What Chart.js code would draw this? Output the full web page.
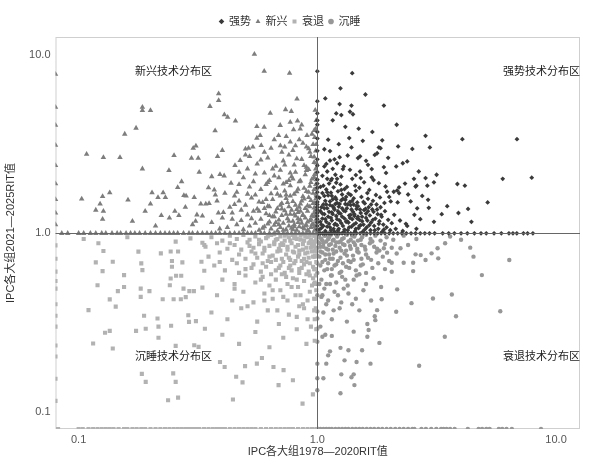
<!DOCTYPE html>
<html>
<head>
<meta charset="utf-8">
<script src="https://cdn.jsdelivr.net/npm/chart.js@4.4.1/dist/chart.umd.min.js"></script>
<style>
  html, body { margin: 0; padding: 0; background: #fff; }
</style>
</head>
<body>
<canvas id="chart" width="596" height="459"></canvas>
<script>
// 系列名与象限名
const seriesNames = ['强势', '新兴', '衰退', '沉睡'];
const quadrantNames = ['新兴技术分布区', '强势技术分布区', '沉睡技术分布区', '衰退技术分布区'];
const tickValues = [0.1, 1, 10];
const xTitle = 'IPC各大组1978—2020RIT值';
const yTitle = 'IPC各大组2021—2025RIT值';

// 强势: [1978-2020 RIT, 2021-2025 RIT]
const strongPoints = [
  [1.0,8.1],[1.40,7.9],[1.25,6.5],[1.59,6.0],[1.08,5.7],[1.24,5.3],[1.39,5.2],[1.90,5.2],[1.20,4.7],[1.26,4.6],
  [1.37,4.8],[1.41,4.65],[2.15,4.06],[1.49,3.86],[2.84,3.52],[4.05,3.37],[6.86,3.37],[1.36,3.42],[1.87,3.32],[1.07,2.96],
  [1.13,2.89],[1.23,3.16],[1.39,3.03],[1.81,3.03],[1.84,3.0],[2.18,3.07],[2.50,2.97],[2.96,3.03],[1.74,2.75],[1.78,2.81],
  [1.51,2.70],[1.48,2.64],[1.24,2.67],[1.34,2.73],[1.07,2.37],[1.13,2.56],[1.21,2.47],[1.29,2.37],[1.28,2.29],[1.37,2.27],
  [1.63,2.42],[1.69,2.29],[1.90,2.35],[2.14,2.37],[2.28,2.47],[2.38,2.53],[1.10,2.22],[1.10,2.02],[1.15,2.02],[1.21,2.02],
  [1.19,2.13],[1.40,2.02],[1.51,2.22],[1.52,2.04],[1.69,2.06],[1.72,1.99],[1.81,1.91],[1.93,1.83],[2.20,1.81],[2.16,1.74],
  [1.96,1.71],[2.54,2.02],[2.60,1.85],[2.58,1.83],[2.89,1.85],[2.84,2.04],[3.16,2.13],[3.08,1.93],[3.86,1.89],[4.15,1.85],
  [5.98,2.02],[7.91,2.05],[5.17,1.49],[4.28,1.37],[4.42,1.16],[3.32,1.28],[3.08,1.16],[2.91,1.54],[2.93,1.39],[2.62,1.38],
  [2.46,1.51],[2.38,1.10],[2.60,1.06],[2.17,1.49],[2.20,1.68],[2.09,1.71],[2.03,1.51],
  [1.02,1.05],[1.04,1.12],[1.05,1.21],[1.03,1.33],[1.06,1.45],[1.02,1.58],[1.05,1.68],[1.03,1.82],[1.08,1.03],[1.09,1.16],
  [1.07,1.28],[1.10,1.38],[1.08,1.52],[1.11,1.63],[1.09,1.76],[1.12,1.90],[1.13,1.08],[1.14,1.22],[1.15,1.31],[1.13,1.44],
  [1.16,1.55],[1.14,1.69],[1.17,1.81],[1.18,1.02],[1.19,1.13],[1.20,1.25],[1.18,1.36],[1.21,1.48],[1.19,1.59],[1.22,1.72],
  [1.23,1.06],[1.24,1.18],[1.25,1.29],[1.23,1.41],[1.26,1.53],[1.27,1.65],[1.25,1.88],[1.28,1.10],[1.30,1.21],[1.29,1.34],
  [1.31,1.46],[1.32,1.60],[1.30,1.77],[1.34,1.04],[1.35,1.15],[1.36,1.26],[1.33,1.38],[1.37,1.50],[1.35,1.67],[1.39,1.09],
  [1.40,1.20],[1.41,1.32],[1.38,1.44],[1.42,1.57],[1.44,1.03],[1.45,1.14],[1.43,1.25],[1.46,1.37],[1.47,1.49],[1.45,1.73],
  [1.49,1.07],[1.50,1.19],[1.52,1.30],[1.48,1.42],[1.53,1.60],[1.55,1.02],[1.56,1.12],[1.54,1.24],[1.57,1.35],[1.58,1.47],
  [1.61,1.08],[1.62,1.18],[1.60,1.29],[1.64,1.40],[1.63,1.56],[1.67,1.04],[1.68,1.15],[1.66,1.26],[1.70,1.36],[1.73,1.10],
  [1.75,1.21],[1.72,1.32],[1.77,1.45],[1.80,1.06],[1.82,1.17],[1.79,1.28],[1.84,1.40],[1.87,1.02],[1.89,1.12],[1.86,1.24],
  [1.92,1.33],[1.95,1.08],[1.98,1.19],[2.02,1.04],[2.05,1.14],[2.10,1.27],[2.13,1.06],[2.22,1.18],[2.28,1.03],[2.35,1.13],
  [1.06,1.10],[1.11,1.24],[1.16,1.42],[1.21,1.11],[1.27,1.38],[1.33,1.17],[1.42,1.45],[1.52,1.11],[1.59,1.37],[1.71,1.52],
  [1.76,1.64],[1.91,1.48],[2.00,1.60],[1.12,1.13],[1.17,1.06],[1.22,1.33],[1.29,1.02],[1.38,1.27],[1.47,1.21],[1.04,1.40],
  [1.07,1.62],[1.14,1.98],[1.19,1.46],[1.31,1.54],[1.44,1.85],[1.57,1.93],[1.65,1.75],[1.83,1.59],[1.94,2.18],[2.40,1.65],
  [2.55,1.27],[2.70,1.20],[2.75,1.62],[3.50,1.42],[3.90,1.30],[2.33,1.90],[2.66,2.22],[1.60,2.55],[1.45,2.12],[1.26,2.08],
  [1.18,2.60],[1.55,3.30],[1.98,2.65],[1.11,3.35],[1.31,3.95],[1.70,3.70],[1.16,4.30],
  [1.03,1.16],[1.05,1.29],[1.04,1.07],[1.07,1.38],[1.08,1.20],[1.09,1.45],[1.10,1.09],[1.12,1.32],[1.13,1.51],[1.14,1.04],
  [1.15,1.18],[1.16,1.28],[1.17,1.39],[1.18,1.12],[1.20,1.55],[1.21,1.20],[1.22,1.04],[1.23,1.30],[1.24,1.46],[1.26,1.14],
  [1.27,1.24],[1.28,1.56],[1.30,1.05],[1.31,1.33],[1.32,1.16],[1.34,1.45],[1.36,1.08],[1.37,1.22],[1.39,1.36],[1.40,1.52],
  [1.42,1.12],[1.43,1.28],[1.45,1.06],[1.46,1.42],[1.48,1.24],[1.50,1.10],[1.51,1.36],[1.54,1.17],[1.56,1.50],[1.58,1.05],
  [1.60,1.22],[1.63,1.33],[1.65,1.11],[1.68,1.45],[1.71,1.19],[1.74,1.04],[1.78,1.36],[1.81,1.13],[1.85,1.27],[1.90,1.05],
  [1.06,1.85],[1.10,1.70],[1.15,1.62],[1.20,1.92],[1.26,1.75],[1.33,1.82],[1.38,1.64],[1.50,1.80],[1.62,1.68],[1.05,2.10],
  [1.09,2.45],[1.16,2.30]
];
// 强势: 2021-2025 RIT 恰为 1 的 (x 值)
const strongOnY1 = [
  1.01,1.03,1.05,1.07,1.09,1.11,1.13,1.15,1.18,1.21,1.24,1.27,1.30,1.34,1.38,1.42,1.46,1.51,1.56,1.61,
  1.67,1.73,1.79,1.85,1.92,2.00,2.08,2.17,2.26,2.36,2.47,2.58,2.70,2.82,2.95,3.10,3.35,3.55,3.75,4.00,
  4.25,4.55,4.85,5.10,5.50,5.90,6.35,6.60,6.85,7.30,7.60,8.00
];
// 强势: 1978-2020 RIT 恰为 1 的 (y 值)
const strongOnX1 = [5.5,4.7,4.3,4.06,3.7,3.4,2.9,2.6,2.4,2.2,2.0,1.9,1.8,1.7,1.6,1.5,1.45,1.4,1.35,1.3,1.25,1.2,1.15,1.1,1.05];

// 新兴
const emergingPoints = [
  [0.545,10.1],[0.599,8.1],[0.765,7.9],[0.822,5.66],[0.386,6.06],[0.386,5.56],[0.355,5.15],[0.408,4.62],[0.421,4.48],[0.454,4.27],
  [0.373,3.76],[0.635,4.72],[0.736,4.94],[0.778,4.83],[0.558,3.97],[0.599,3.93],[0.699,4.03],[0.826,4.27],[0.77,4.2],[0.795,3.81],
  [0.848,3.85],[0.905,3.54],[0.971,3.78],[0.185,5.1],[0.185,4.89],[0.200,4.89],[0.174,3.89],[0.156,3.60],[0.108,2.78],[0.127,2.66],
  [0.149,2.66],[0.185,2.30],[0.239,2.25],[0.251,2.73],[0.302,3.0],[0.310,3.09],[0.297,2.64],[0.317,2.64],[0.382,2.70],[0.400,2.92],
  [0.515,3.0],[0.537,3.05],[0.50,2.75],[0.52,2.70],[0.582,3.11],[0.103,1.56],[0.126,1.61],[0.135,1.69],[0.123,1.46],[0.127,1.33],
  [0.118,1.35],[0.126,1.20],[0.161,1.54],[0.168,1.17],[0.19,1.33],[0.20,1.46],[0.203,1.69],[0.215,1.59],[0.226,1.69],[0.231,1.59],
  [0.222,1.26],[0.26,1.81],[0.276,1.63],[0.282,1.62],[0.253,1.33],[0.263,1.26],[0.305,1.59],[0.313,1.27],[0.309,1.17],[0.325,1.46],
  [0.341,1.46],[0.352,1.47],[0.37,1.75],[0.374,1.64],[0.361,2.08],[0.391,2.14],[0.407,2.10],[0.435,1.91],[0.385,1.30],[0.404,1.31],
  [0.361,1.15],[0.452,2.40],[0.475,2.56],[0.50,2.97],[0.558,3.42],[0.576,3.54],[0.688,3.54],[0.741,3.49],[0.77,3.25],[0.84,3.35],
  [0.64,3.0],[0.70,3.1],
  [0.42,1.08],[0.46,1.12],[0.49,1.05],[0.52,1.10],[0.55,1.14],[0.57,1.04],[0.60,1.09],[0.62,1.13],[0.64,1.06],[0.66,1.11],
  [0.68,1.03],[0.70,1.08],[0.72,1.14],[0.74,1.05],[0.76,1.10],[0.78,1.07],[0.80,1.12],[0.82,1.04],[0.84,1.09],[0.86,1.14],
  [0.88,1.06],[0.90,1.11],[0.92,1.03],[0.94,1.08],[0.96,1.13],[0.98,1.05],
  [0.40,1.22],[0.44,1.30],[0.48,1.18],[0.51,1.27],[0.54,1.33],[0.58,1.20],[0.61,1.29],[0.63,1.16],[0.65,1.24],[0.67,1.32],
  [0.69,1.19],[0.71,1.26],[0.73,1.34],[0.75,1.21],[0.77,1.28],[0.79,1.17],[0.81,1.25],[0.83,1.31],[0.85,1.19],[0.87,1.27],
  [0.89,1.22],[0.91,1.33],[0.93,1.18],[0.95,1.26],[0.97,1.30],[0.99,1.20],
  [0.43,1.40],[0.47,1.52],[0.50,1.44],[0.53,1.58],[0.56,1.37],[0.59,1.49],[0.62,1.42],[0.65,1.55],[0.68,1.38],[0.71,1.47],
  [0.74,1.57],[0.76,1.41],[0.79,1.51],[0.82,1.36],[0.85,1.46],[0.88,1.56],[0.91,1.43],[0.94,1.53],[0.97,1.39],
  [0.46,1.70],[0.52,1.82],[0.55,1.64],[0.58,1.76],[0.61,1.88],[0.64,1.67],[0.67,1.79],[0.70,1.62],[0.73,1.73],[0.77,1.85],
  [0.80,1.66],[0.83,1.77],[0.87,1.61],[0.90,1.72],[0.93,1.84],[0.96,1.68],[0.99,1.78],
  [0.49,2.05],[0.54,1.95],[0.60,2.18],[0.63,1.98],[0.66,2.10],[0.70,2.26],[0.74,1.93],[0.78,2.08],[0.81,2.20],[0.85,1.97],
  [0.89,2.13],[0.92,2.28],[0.95,2.02],[0.98,2.15],
  [0.56,2.45],[0.62,2.65],[0.67,2.38],[0.72,2.55],[0.76,2.75],[0.80,2.42],[0.86,2.60],[0.90,2.35],[0.94,2.70],[0.97,2.50],
  [0.60,2.85],[0.73,3.05],[0.79,2.92],[0.87,3.20],[0.92,2.98],[0.96,3.15],
  [0.21,1.10],[0.24,1.22],[0.28,1.40],[0.30,1.12],[0.33,1.25],[0.35,1.80],[0.38,1.52],[0.41,1.68],[0.44,1.20],[0.27,1.95],
  [0.32,2.20],[0.39,1.06],[0.45,1.45],[0.47,1.88],[0.51,2.30],
  [0.975,1.04],[0.985,1.10],[0.99,1.17],[0.97,1.24],[0.985,1.31],[0.99,1.39],[0.975,1.47],[0.985,1.56],[0.99,1.66],[0.97,1.76],
  [0.985,1.88],[0.99,2.0],[0.975,2.14],[0.985,2.3],[0.99,2.48],[0.97,2.68],[0.985,2.9],[0.99,3.15],[0.975,3.45],[0.985,3.85],
  [0.99,4.3],[0.98,4.9],
  [0.53,1.21],[0.57,1.33],[0.59,1.07],[0.61,1.55],[0.63,1.41],[0.66,1.24],[0.68,1.66],[0.69,1.12],[0.71,1.37],[0.72,1.89],
  [0.74,1.28],[0.75,1.49],[0.76,1.17],[0.77,1.62],[0.78,1.35],[0.79,2.02],[0.80,1.09],[0.81,1.44],[0.82,1.71],[0.83,1.21],
  [0.84,1.95],[0.85,1.33],[0.86,1.52],[0.87,1.08],[0.88,1.79],[0.89,1.38],[0.90,2.25],[0.91,1.16],[0.92,1.59],[0.93,1.41],
  [0.94,1.93],[0.95,1.12],[0.96,1.47],[0.97,2.06],[0.98,1.25],[0.99,1.62],[0.62,1.93],[0.65,2.30],[0.69,2.05],[0.73,2.42],
  [0.77,2.18],[0.82,2.62],[0.88,2.40],[0.93,2.85],[0.58,2.58],[0.55,2.15],[0.51,1.66],[0.48,1.35],[0.45,1.62],[0.47,2.20],
  [0.71,2.85],[0.81,3.10],[0.66,3.35],[0.86,4.05],[0.90,3.05],[0.95,3.60],[0.79,1.05],[0.83,1.15],[0.87,1.26],[0.91,1.04],
  [0.94,1.20],[0.97,1.09],[0.72,1.04],[0.67,1.15],[0.63,1.26],[0.60,1.38],[0.57,1.50],[0.76,1.98],[0.84,1.40],[0.92,1.70],
  [0.98,1.35],[0.89,1.10],[0.80,1.28],[0.74,1.64],[0.70,1.44]
];
const emergingOnY1 = [
  0.085,0.09,0.10,0.105,0.112,0.118,0.125,0.13,0.138,0.145,0.15,0.158,0.165,0.172,0.18,0.19,0.20,0.21,0.22,0.23,
  0.24,0.25,0.26,0.275,0.29,0.30,0.315,0.33,0.345,0.36,0.375,0.39,0.41,0.43,0.45,0.47,0.49,0.51,0.53,0.55,
  0.58,0.60,0.63,0.66,0.69,0.72,0.75,0.78,0.81,0.84,0.87,0.90,0.93,0.96,0.99
];
// 1978-2020 RIT 为 0 (y 值)
const emergingZeroX = [7.8,5.1,4.04,3.12,2.4,1.9,1.55,1.3,1.12];

// 衰退
const decliningPoints = [
  [0.121,0.879],[0.127,0.796],[0.118,0.687],[0.139,0.693],[0.126,0.614],[0.155,0.583],[0.120,0.512],[0.146,0.474],[0.155,0.50],[0.135,0.426],
  [0.143,0.388],[0.110,0.371],[0.129,0.277],[0.135,0.284],[0.115,0.241],[0.139,0.226],[0.178,0.789],[0.183,0.678],[0.185,0.622],[0.182,0.49],
  [0.182,0.44],[0.198,0.474],[0.188,0.345],[0.191,0.292],[0.174,0.284],[0.214,0.333],[0.216,0.30],[0.216,0.26],[0.225,0.427],[0.244,0.303],
  [0.221,0.772],[0.243,0.79],[0.261,0.79],[0.255,0.898],[0.246,0.699],[0.246,0.65],[0.243,0.558],[0.256,0.578],[0.269,0.578],[0.272,0.687],
  [0.241,0.512],[0.25,0.427],[0.268,0.427],[0.281,0.439],[0.275,0.49],[0.291,0.474],[0.304,0.474],[0.288,0.347],[0.29,0.319],[0.31,0.322],
  [0.255,0.234],[0.305,0.236],[0.318,0.231],[0.184,0.163],[0.191,0.147],[0.249,0.164],[0.255,0.147],[0.237,0.116],[0.261,0.12],[0.294,0.937],
  [0.33,0.886],[0.336,0.86],[0.327,0.693],[0.336,0.617],[0.33,0.496],[0.338,0.292],[0.391,0.19],[0.409,0.178],[0.867,0.111],[0.958,0.125],
  [0.688,0.141],[0.79,0.15],[0.486,0.146],[0.443,0.117],[0.457,0.157],[0.498,0.18],[0.558,0.186],[0.586,0.20],[0.655,0.178],[0.722,0.171],
  [0.16,0.95],[0.105,0.93],
  [0.36,0.95],[0.40,0.91],[0.43,0.97],[0.46,0.93],[0.49,0.98],[0.52,0.92],[0.55,0.96],[0.58,0.90],[0.61,0.94],[0.64,0.98],
  [0.67,0.92],[0.70,0.96],[0.73,0.91],[0.76,0.95],[0.79,0.98],[0.82,0.93],[0.85,0.97],[0.88,0.91],[0.91,0.95],[0.94,0.92],
  [0.97,0.97],[0.99,0.94],
  [0.34,0.84],[0.38,0.88],[0.42,0.82],[0.45,0.86],[0.48,0.81],[0.51,0.89],[0.54,0.83],[0.57,0.87],[0.60,0.80],[0.63,0.85],
  [0.66,0.89],[0.69,0.82],[0.72,0.86],[0.75,0.81],[0.78,0.88],[0.81,0.84],[0.84,0.80],[0.87,0.87],[0.90,0.83],[0.93,0.89],
  [0.96,0.85],[0.98,0.81],
  [0.35,0.74],[0.39,0.78],[0.44,0.71],[0.47,0.76],[0.50,0.72],[0.53,0.79],[0.56,0.73],[0.59,0.77],[0.62,0.70],[0.65,0.75],
  [0.68,0.79],[0.71,0.72],[0.74,0.76],[0.77,0.71],[0.80,0.78],[0.83,0.74],[0.86,0.70],[0.89,0.77],[0.92,0.73],[0.95,0.79],
  [0.98,0.75],
  [0.37,0.66],[0.41,0.62],[0.46,0.68],[0.50,0.63],[0.54,0.67],[0.58,0.61],[0.61,0.65],[0.64,0.69],[0.67,0.62],[0.70,0.66],
  [0.73,0.60],[0.76,0.64],[0.80,0.68],[0.84,0.63],[0.88,0.67],[0.92,0.61],[0.96,0.65],
  [0.40,0.55],[0.45,0.52],[0.50,0.58],[0.55,0.53],[0.59,0.57],[0.63,0.51],[0.67,0.55],[0.71,0.59],[0.75,0.52],[0.79,0.56],
  [0.83,0.50],[0.88,0.54],[0.93,0.58],[0.97,0.52],
  [0.38,0.45],[0.44,0.42],[0.49,0.47],[0.54,0.41],[0.60,0.46],[0.65,0.43],[0.70,0.48],[0.75,0.42],[0.81,0.45],[0.87,0.40],
  [0.93,0.47],[0.98,0.43],
  [0.36,0.36],[0.42,0.33],[0.48,0.38],[0.56,0.32],[0.62,0.37],[0.69,0.31],[0.76,0.35],[0.84,0.39],[0.91,0.33],[0.97,0.37],
  [0.40,0.27],[0.47,0.24],[0.55,0.28],[0.63,0.23],[0.72,0.26],[0.82,0.29],[0.90,0.24],
  [0.975,0.97],[0.985,0.91],[0.97,0.86],[0.985,0.80],[0.975,0.74],[0.99,0.69],[0.97,0.63],[0.985,0.58],[0.975,0.53],[0.99,0.48],
  [0.97,0.43],[0.985,0.38],[0.975,0.33],[0.99,0.29],[0.975,0.25],
  [0.52,0.85],[0.55,0.77],[0.57,0.92],[0.59,0.68],[0.60,0.83],[0.62,0.96],[0.63,0.74],[0.64,0.59],[0.66,0.87],[0.67,0.71],
  [0.68,0.93],[0.69,0.64],[0.70,0.80],[0.71,0.88],[0.72,0.69],[0.73,0.97],[0.74,0.57],[0.75,0.84],[0.76,0.73],[0.77,0.91],
  [0.78,0.62],[0.79,0.79],[0.80,0.94],[0.81,0.70],[0.82,0.55],[0.83,0.86],[0.84,0.76],[0.85,0.92],[0.86,0.64],[0.87,0.81],
  [0.88,0.72],[0.89,0.96],[0.90,0.59],[0.91,0.78],[0.92,0.88],[0.93,0.68],[0.94,0.83],[0.95,0.51],[0.96,0.74],[0.97,0.90],
  [0.98,0.63],[0.99,0.79],[0.58,0.55],[0.65,0.48],[0.72,0.44],[0.78,0.50],[0.85,0.45],[0.91,0.42],[0.96,0.56],[0.68,0.37],
  [0.82,0.34],[0.94,0.30],[0.88,0.38],[0.60,0.42],[0.53,0.64],[0.47,0.60],[0.43,0.88],[0.39,0.69],[0.45,0.49],[0.51,0.39],
  [0.74,0.99],[0.81,0.98],[0.87,0.99],[0.93,0.97],[0.66,0.99],[0.70,0.86],[0.77,0.66],[0.84,0.60],[0.90,0.69],[0.95,0.87]
];
// 2021-2025 RIT 为 0 (x 值)
const decliningZeroY = [
  0.082,0.10,0.104,0.11,0.115,0.12,0.125,0.13,0.135,0.14,0.147,0.155,0.16,0.168,0.175,0.183,0.19,0.2,0.21,0.22,
  0.23,0.24,0.25,0.26,0.27,0.28,0.29,0.30,0.31,0.32,0.335,0.35,0.365,0.38,0.395,0.41,0.43,0.45,0.47,0.49,
  0.51,0.53,0.55,0.58,0.61,0.64,0.67,0.70,0.73,0.76,0.79,0.83,0.87,0.91,0.95,0.99
];
// 1978-2020 RIT 为 0 (y 值)
const decliningZeroX = [0.856,0.72,0.61,0.54,0.49,0.40,0.345,0.30,0.235,0.204,0.153,0.115];

// 沉睡
const dormantPoints = [
  [4.37,0.831],[4.51,0.74],[6.37,0.708],[4.89,0.583],[5.84,0.366],[3.66,0.454],[3.81,0.343],[3.42,0.263],[2.67,0.181],[3.05,0.431],
  [2.48,0.406],[2.14,0.363],[2.16,0.485],[2.52,0.614],[2.05,0.609],[3.43,0.879],[3.19,0.824],[3.01,0.772],[2.84,0.708],[3.21,0.724],
  [2.71,0.755],[2.58,0.762],[2.52,0.684],[2.30,0.684],[2.23,0.824],[2.05,0.684],[1.90,0.824],[1.96,0.779],[1.86,0.427],[1.78,0.371],
  [1.67,0.186],[1.46,0.19],[1.30,0.194],[1.82,0.243],[1.62,0.263],[1.64,0.287],[1.42,0.281],[1.25,0.127],[1.43,0.141],[1.39,0.156],
  [1.42,0.162],[1.26,0.162],[1.06,0.154],[1.09,0.186],[1.13,0.218],[1.11,0.207],[1.15,0.266],[1.25,0.228],[1.35,0.221],[1.05,0.263],
  [1.54,0.221],[1.74,0.343],[1.75,0.326],
  [1.02,0.95],[1.05,0.91],[1.08,0.97],[1.11,0.93],[1.14,0.98],[1.17,0.92],[1.21,0.96],[1.25,0.90],[1.29,0.94],[1.33,0.98],
  [1.38,0.92],[1.43,0.96],[1.48,0.91],[1.54,0.95],[1.60,0.98],[1.67,0.93],[1.75,0.97],[1.84,0.91],[1.95,0.95],[2.08,0.92],
  [2.30,0.97],[2.60,0.93],[3.60,0.96],[4.00,0.92],
  [1.03,0.84],[1.06,0.88],[1.09,0.82],[1.12,0.86],[1.16,0.81],[1.20,0.89],[1.24,0.83],[1.28,0.87],[1.32,0.80],[1.37,0.85],
  [1.42,0.89],[1.47,0.82],[1.53,0.86],[1.59,0.81],[1.66,0.88],[1.73,0.84],[1.82,0.80],[1.92,0.87],[2.05,0.83],[2.40,0.86],
  [1.02,0.74],[1.05,0.78],[1.08,0.71],[1.12,0.76],[1.16,0.72],[1.20,0.79],[1.25,0.73],[1.30,0.77],[1.35,0.70],[1.41,0.75],
  [1.47,0.79],[1.53,0.72],[1.60,0.76],[1.68,0.71],[1.77,0.78],[1.88,0.74],[2.00,0.70],[2.15,0.77],
  [1.03,0.66],[1.07,0.62],[1.11,0.68],[1.15,0.63],[1.20,0.67],[1.26,0.61],[1.32,0.65],[1.38,0.69],[1.45,0.62],[1.52,0.66],
  [1.60,0.60],[1.70,0.64],[1.80,0.68],[1.92,0.63],
  [1.04,0.55],[1.09,0.52],[1.14,0.58],[1.20,0.53],[1.27,0.57],[1.34,0.51],[1.42,0.55],[1.50,0.59],[1.60,0.52],[1.72,0.56],
  [1.85,0.50],
  [1.05,0.45],[1.11,0.42],[1.18,0.47],[1.26,0.41],[1.35,0.46],[1.45,0.43],[1.56,0.48],[1.68,0.42],
  [1.06,0.36],[1.15,0.33],[1.24,0.38],[1.33,0.32],[1.50,0.37],[1.62,0.31],
  [1.02,0.88],[1.03,0.79],[1.04,0.93],[1.05,0.69],[1.06,0.84],[1.07,0.97],[1.08,0.76],[1.09,0.90],[1.10,0.63],[1.11,0.81],
  [1.12,0.95],[1.13,0.72],[1.14,0.87],[1.15,0.58],[1.16,0.91],[1.17,0.77],[1.18,0.66],[1.19,0.85],[1.21,0.98],[1.22,0.70],
  [1.23,0.89],[1.24,0.60],[1.26,0.80],[1.27,0.93],[1.28,0.68],[1.30,0.86],[1.31,0.55],[1.33,0.75],[1.35,0.90],[1.36,0.64],
  [1.38,0.82],[1.40,0.97],[1.42,0.71],[1.44,0.86],[1.46,0.58],[1.49,0.78],[1.52,0.92],[1.55,0.67],[1.58,0.84],[1.63,0.73],
  [1.70,0.90],[1.78,0.82],[1.02,0.52],[1.04,0.44],[1.07,0.49],[1.09,0.40],[1.13,0.52],[1.17,0.37],[1.22,0.45],[1.29,0.49],
  [1.40,0.40],[1.03,0.30],[1.08,0.27]
];
// 1978-2020 RIT 恰为 1 的 (y 值)
const dormantOnX1 = [0.97,0.9,0.83,0.75,0.68,0.6,0.52,0.45,0.365,0.333,0.292,0.247,0.186,0.154,0.132];
// 2021-2025 RIT 为 0 (x 值)
const dormantZeroY = [
  1.01,1.03,1.06,1.09,1.12,1.15,1.19,1.23,1.27,1.31,1.35,1.40,1.45,1.50,1.55,1.61,1.67,1.73,1.80,1.87,
  1.95,2.03,2.12,2.21,2.30,2.40,2.50,2.55,2.73,2.85,3.0,3.15,3.3,3.38,3.48,3.6,3.76,4.27,4.74,4.9,
  5.1,5.27,5.76,5.95,6.2,6.53,8.65
];

const AXIS_MIN = 0.08;
const AXIS_MAX = 12.6;
const FONT = '"Liberation Sans", "Noto Sans CJK SC", sans-serif';

// 0 值在对数轴上画在轴边
const toXY = pairs => pairs.map(([x, y]) => ({ x: x > 0 ? x : AXIS_MIN, y: y > 0 ? y : AXIS_MIN }));

const strongData = toXY([
  ...strongPoints,
  ...strongOnY1.map(x => [x, 1]),
  ...strongOnX1.map(y => [1, y])
]);
const emergingData = toXY([
  ...emergingPoints,
  ...emergingOnY1.map(x => [x, 1]),
  ...emergingZeroX.map(y => [0, y])
]);
const decliningData = toXY([
  ...decliningPoints,
  ...decliningZeroY.map(x => [x, 0]),
  ...decliningZeroX.map(y => [0, y])
]);
const dormantData = toXY([
  ...dormantPoints,
  ...dormantOnX1.map(y => [1, y]),
  ...dormantZeroY.map(x => [x, 0])
]);

/**
 * 边框、分界线与象限文字
 */
const quadrantPlugin = {
  id: 'quadrant',
  beforeDatasetsDraw(chart) {
    const { ctx, chartArea: a } = chart;
    ctx.save();
    ctx.strokeStyle = '#cfcfcf';
    ctx.lineWidth = 1;
    ctx.strokeRect(a.left + 0.5, a.top + 0.5, a.right - a.left - 1, a.bottom - a.top - 1);
    ctx.restore();
  },
  afterDatasetsDraw(chart) {
    const { ctx, chartArea: a, scales } = chart;
    const px = Math.round(scales.x.getPixelForValue(1)) + 0.5;
    const py = Math.round(scales.y.getPixelForValue(1)) + 0.5;
    ctx.save();
    ctx.strokeStyle = '#666';
    ctx.lineWidth = 1;
    ctx.beginPath();
    ctx.moveTo(px, a.top);
    ctx.lineTo(px, a.bottom);
    ctx.moveTo(a.left, py);
    ctx.lineTo(a.right, py);
    ctx.stroke();

    const spots = [[0.25, 8.0], [8.7, 8.0], [0.25, 0.204], [8.7, 0.204]];
    ctx.fillStyle = '#222';
    ctx.font = '11px ' + FONT;
    ctx.textAlign = 'center';
    ctx.textBaseline = 'middle';
    quadrantNames.forEach((name, i) => {
      ctx.fillText(name, scales.x.getPixelForValue(spots[i][0]), scales.y.getPixelForValue(spots[i][1]));
    });
    ctx.restore();
  }
};

const logAxis = (title, isX) => ({
  type: 'logarithmic',
  min: AXIS_MIN,
  max: AXIS_MAX,
  afterBuildTicks: scale => {
    scale.ticks = tickValues.map(v => ({ value: v }));
  },
  afterFit: scale => {
    if (isX) {
      scale.height = 30;
    } else {
      scale.width = 55.5;
    }
  },
  grid: { display: false, drawTicks: false },
  border: { display: false },
  ticks: {
    color: '#555',
    font: { family: FONT, size: 11 },
    padding: isX ? 4 : 5,
    autoSkip: false,
    maxRotation: 0,
    callback: v => Number(v).toFixed(1)
  },
  title: {
    display: true,
    text: title,
    color: '#333',
    font: { family: FONT, size: 11 },
    padding: isX ? { top: 0, bottom: 0 } : { top: 4, bottom: 0 }
  }
});

new Chart(document.getElementById('chart'), {
  type: 'scatter',
  data: {
    datasets: [
      { label: seriesNames[0], data: strongData, pointStyle: 'rectRot', pointRadius: 2.4, backgroundColor: '#3a3a3a', borderWidth: 0, clip: 0 },
      { label: seriesNames[1], data: emergingData, pointStyle: 'triangle', pointRadius: 3.2, backgroundColor: '#7d7d7d', borderWidth: 0, clip: 0 },
      { label: seriesNames[2], data: decliningData, pointStyle: 'rect', pointRadius: 2.9, backgroundColor: '#b2b2b2', borderWidth: 0, clip: 0 },
      { label: seriesNames[3], data: dormantData, pointStyle: 'circle', pointRadius: 2.2, backgroundColor: '#979797', borderWidth: 0, clip: 0 }
    ]
  },
  options: {
    responsive: false,
    animation: false,
    layout: { padding: { top: 11, right: 16, bottom: 0, left: 0 } },
    plugins: {
      legend: {
        position: 'top',
        labels: {
          usePointStyle: true,
          boxWidth: 4,
          boxHeight: 4,
          padding: 5,
          color: '#333',
          font: { family: FONT, size: 11 }
        }
      },
      tooltip: { enabled: false }
    },
    scales: {
      x: logAxis(xTitle, true),
      y: logAxis(yTitle, false)
    }
  },
  plugins: [quadrantPlugin]
});
</script>
</body>
</html>
